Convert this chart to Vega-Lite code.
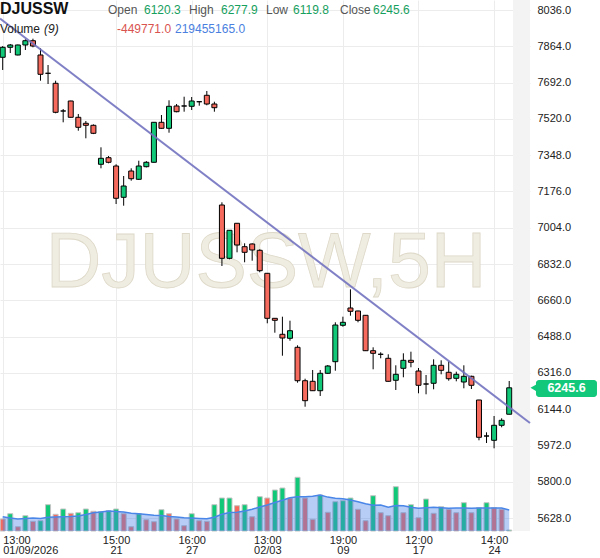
{
  "$schema": "https://vega.github.io/schema/vega-lite/v6.json",
  "width": 530,
  "height": 531,
  "padding": {"left": 0, "top": 0, "right": 70, "bottom": 27},
  "autosize": {"type": "none"},
  "background": "white",
  "config": {
    "view": {"stroke": null},
    "font": "Liberation Sans",
    "scale": {"continuousPadding": 0},
    "axis": {"domain": false, "ticks": false, "gridColor": "#ececec", "gridWidth": 1, "labelColor": "#222222", "labelFontSize": 11, "labelFont": "Liberation Sans", "labelOverlap": false},
    "axisX": {"labelFlush": false, "labelOverlap": false, "labelBound": false},
    "axisY": {"labelOverlap": false, "labelFlush": false}
  },
  "datasets": {
    "bars": [
      {"i":0,"o":7811.9,"h":7865,"l":7751.7,"c":7859.2,"vol":120,"ma":143,"vd":"down"},
      {"i":1,"o":7859.2,"h":7874.9,"l":7832.2,"c":7870.2,"vol":173,"ma":130,"vd":"up"},
      {"i":2,"o":7822.8,"h":7872,"l":7821,"c":7870.2,"vol":43,"ma":120,"vd":"down"},
      {"i":3,"o":7870.2,"h":7897.2,"l":7846.5,"c":7890.5,"vol":153,"ma":125,"vd":"up"},
      {"i":4,"o":7890.5,"h":7900,"l":7859.2,"c":7865.4,"vol":97,"ma":130,"vd":"down"},
      {"i":5,"o":7822.8,"h":7854.5,"l":7701,"c":7731.3,"vol":103,"ma":125,"vd":"up"},
      {"i":6,"o":7736,"h":7775.4,"l":7685.3,"c":7736,"vol":263,"ma":137,"vd":"up"},
      {"i":7,"o":7688.6,"h":7701,"l":7546.5,"c":7551.2,"vol":167,"ma":141,"vd":"down"},
      {"i":8,"o":7557.4,"h":7566.9,"l":7503.8,"c":7557.4,"vol":220,"ma":143,"vd":"up"},
      {"i":9,"o":7604.8,"h":7606,"l":7526,"c":7527.5,"vol":177,"ma":146,"vd":"down"},
      {"i":10,"o":7527.5,"h":7543.2,"l":7464,"c":7480.1,"vol":183,"ma":151,"vd":"up"},
      {"i":11,"o":7499.1,"h":7510,"l":7428,"c":7489.6,"vol":220,"ma":165,"vd":"up"},
      {"i":12,"o":7489.6,"h":7494,"l":7448,"c":7451.7,"vol":197,"ma":183,"vd":"down"},
      {"i":13,"o":7304.8,"h":7385.3,"l":7285.8,"c":7333.2,"vol":193,"ma":191,"vd":"up"},
      {"i":14,"o":7336.1,"h":7344.1,"l":7309.5,"c":7314.3,"vol":203,"ma":199,"vd":"up"},
      {"i":15,"o":7296.7,"h":7304.8,"l":7116.6,"c":7143.7,"vol":220,"ma":196,"vd":"up"},
      {"i":16,"o":7148.4,"h":7249.3,"l":7108.6,"c":7201.9,"vol":173,"ma":190,"vd":"down"},
      {"i":17,"o":7273,"h":7285.8,"l":7227.1,"c":7236.5,"vol":43,"ma":177,"vd":"down"},
      {"i":18,"o":7233.7,"h":7321.8,"l":7230.4,"c":7296.7,"vol":173,"ma":173,"vd":"up"},
      {"i":19,"o":7293.4,"h":7320,"l":7290,"c":7314.3,"vol":113,"ma":165,"vd":"down"},
      {"i":20,"o":7314.3,"h":7505,"l":7313,"c":7503.8,"vol":93,"ma":157,"vd":"down"},
      {"i":21,"o":7503.8,"h":7538.4,"l":7473.5,"c":7475.4,"vol":213,"ma":154,"vd":"up"},
      {"i":22,"o":7475.4,"h":7608.1,"l":7454.5,"c":7579.6,"vol":173,"ma":146,"vd":"down"},
      {"i":23,"o":7581.1,"h":7590.5,"l":7551.2,"c":7554.1,"vol":120,"ma":140,"vd":"down"},
      {"i":24,"o":7581.1,"h":7625.1,"l":7554.1,"c":7581.1,"vol":53,"ma":133,"vd":"down"},
      {"i":25,"o":7579.6,"h":7623.7,"l":7562.1,"c":7604.8,"vol":173,"ma":130,"vd":"up"},
      {"i":26,"o":7601.4,"h":7604.8,"l":7582.5,"c":7601.4,"vol":103,"ma":126,"vd":"down"},
      {"i":27,"o":7631.8,"h":7652.2,"l":7584.4,"c":7590.5,"vol":97,"ma":122,"vd":"down"},
      {"i":28,"o":7590.5,"h":7601.4,"l":7554.1,"c":7573,"vol":263,"ma":137,"vd":"up"},
      {"i":29,"o":7111.9,"h":7124.7,"l":6822.8,"c":6859.3,"vol":330,"ma":168,"vd":"up"},
      {"i":30,"o":6859.3,"h":6992.5,"l":6854.6,"c":6992,"vol":330,"ma":185,"vd":"up"},
      {"i":31,"o":7025.2,"h":7026,"l":6887.7,"c":6922.4,"vol":253,"ma":188,"vd":"down"},
      {"i":32,"o":6914.3,"h":6930.4,"l":6840.4,"c":6887.7,"vol":263,"ma":199,"vd":"up"},
      {"i":33,"o":6927.1,"h":6930.4,"l":6848,"c":6898.7,"vol":143,"ma":218,"vd":"down"},
      {"i":34,"o":6897.2,"h":6901.9,"l":6793,"c":6800.6,"vol":343,"ma":240,"vd":"up"},
      {"i":35,"o":6788.2,"h":6789,"l":6551.3,"c":6574.9,"vol":330,"ma":260,"vd":"down"},
      {"i":36,"o":6574.9,"h":6575.5,"l":6506.7,"c":6565.5,"vol":410,"ma":285,"vd":"up"},
      {"i":37,"o":6499.2,"h":6582.6,"l":6397.7,"c":6481.6,"vol":430,"ma":308,"vd":"up"},
      {"i":38,"o":6480.2,"h":6563.6,"l":6468.8,"c":6516.2,"vol":330,"ma":333,"vd":"down"},
      {"i":39,"o":6437.5,"h":6447,"l":6269.8,"c":6279.2,"vol":537,"ma":343,"vd":"up"},
      {"i":40,"o":6279.2,"h":6288.7,"l":6156,"c":6184.5,"vol":330,"ma":343,"vd":"down"},
      {"i":41,"o":6276.4,"h":6330,"l":6231,"c":6231.8,"vol":117,"ma":348,"vd":"down"},
      {"i":42,"o":6231.8,"h":6330,"l":6206.8,"c":6314.3,"vol":360,"ma":360,"vd":"up"},
      {"i":43,"o":6314.3,"h":6353.6,"l":6311,"c":6348.9,"vol":187,"ma":339,"vd":"down"},
      {"i":44,"o":6369.3,"h":6556,"l":6326.6,"c":6543.2,"vol":293,"ma":328,"vd":"up"},
      {"i":45,"o":6541.8,"h":6582.6,"l":6535.1,"c":6556,"vol":303,"ma":323,"vd":"up"},
      {"i":46,"o":6623.8,"h":6712.4,"l":6587.3,"c":6608.1,"vol":330,"ma":310,"vd":"up"},
      {"i":47,"o":6609.6,"h":6611,"l":6556,"c":6565.5,"vol":217,"ma":293,"vd":"down"},
      {"i":48,"o":6589.2,"h":6590,"l":6420,"c":6421.4,"vol":103,"ma":272,"vd":"down"},
      {"i":49,"o":6421.4,"h":6437.5,"l":6333.3,"c":6409.1,"vol":353,"ma":258,"vd":"up"},
      {"i":50,"o":6404.4,"h":6413.9,"l":6385.4,"c":6404.4,"vol":183,"ma":260,"vd":"down"},
      {"i":51,"o":6385.4,"h":6404.4,"l":6275,"c":6276.4,"vol":153,"ma":237,"vd":"down"},
      {"i":52,"o":6281.2,"h":6352.2,"l":6235.2,"c":6309.6,"vol":443,"ma":255,"vd":"up"},
      {"i":53,"o":6338,"h":6409.1,"l":6295.4,"c":6375.9,"vol":183,"ma":252,"vd":"down"},
      {"i":54,"o":6375.9,"h":6416.7,"l":6342.8,"c":6366.5,"vol":263,"ma":238,"vd":"up"},
      {"i":55,"o":6325.2,"h":6339.5,"l":6219.5,"c":6257.5,"vol":133,"ma":228,"vd":"down"},
      {"i":56,"o":6263.6,"h":6306.3,"l":6214.8,"c":6263.6,"vol":320,"ma":233,"vd":"up"},
      {"i":57,"o":6267,"h":6380.6,"l":6238.5,"c":6352.2,"vol":177,"ma":238,"vd":"down"},
      {"i":58,"o":6352.2,"h":6375.9,"l":6309.6,"c":6328.5,"vol":243,"ma":233,"vd":"up"},
      {"i":59,"o":6319.1,"h":6371.2,"l":6279.2,"c":6288.7,"vol":217,"ma":228,"vd":"down"},
      {"i":60,"o":6290.6,"h":6322,"l":6276.4,"c":6309.6,"vol":183,"ma":230,"vd":"down"},
      {"i":61,"o":6273.1,"h":6352.2,"l":6243.2,"c":6300.1,"vol":283,"ma":229,"vd":"up"},
      {"i":62,"o":6300.1,"h":6303,"l":6239.9,"c":6257.5,"vol":183,"ma":227,"vd":"down"},
      {"i":63,"o":6187.8,"h":6188.5,"l":5996.8,"c":6011,"vol":233,"ma":229,"vd":"up"},
      {"i":64,"o":6017.2,"h":6034.7,"l":5984,"c":6017.2,"vol":283,"ma":230,"vd":"up"},
      {"i":65,"o":5996.8,"h":6112,"l":5958.9,"c":6067.9,"vol":233,"ma":230,"vd":"down"},
      {"i":66,"o":6067.9,"h":6101.1,"l":6058.4,"c":6091.6,"vol":217,"ma":230,"vd":"down"},
      {"i":67,"o":6120.3,"h":6277.9,"l":6119.8,"c":6245.6,"vol":10,"ma":210,"vd":"up"}
    ],
    "trend": [{"i": -0.357, "p": 7995.3}, {"i": 69.75, "p": 6078.8}],
    "future": [{"i": 67.5, "i2": 69.75}],
    "mark": [{"t": "DJUSSW,5H", "i": 34.83, "p": 6724.7}],
    "hdr": [
      {"t":"DJUSSW","i":-0.357,"p":8019.4,"role":"sym"},
      {"t":"Open","i":13.93,"p":8019.4,"role":"lab"},
      {"t":"6120.3","i":18.69,"p":8019.4,"role":"val"},
      {"t":"High","i":24.64,"p":8019.4,"role":"lab"},
      {"t":"6277.9","i":28.87,"p":8019.4,"role":"val"},
      {"t":"Low","i":34.83,"p":8019.4,"role":"lab"},
      {"t":"6119.8","i":38.4,"p":8019.4,"role":"val"},
      {"t":"Close","i":44.62,"p":8019.4,"role":"lab"},
      {"t":"6245.6","i":48.98,"p":8019.4,"role":"val"},
      {"t":"Volume","i":-0.357,"p":7927,"role":"vol"},
      {"t":"(9)","i":5.46,"p":7927,"role":"per"},
      {"t":"-449771.0","i":15.12,"p":7927,"role":"chg"},
      {"t":"219455165.0","i":22.79,"p":7927,"role":"ma"}
    ],
    "last": [{"t": "6245.6", "p": 6245.6}]
  },
  "layer": [
    {
      "layer": [
        {
          "data": {"name": "future"},
          "mark": {"type": "rect", "fill": "#f3f3f3"},
          "encoding": {
            "x": {"field": "i", "type": "quantitative", "title": null, "scale": {"domain": [-0.357, 69.75], "nice": false, "zero": false, "padding": 0},
              "axis": {"values": [0, 15, 25, 35, 45, 55, 65], "tickCount": 30, "grid": true, "labelFlush": false, "labelPadding": 3, "labelLineHeight": 10.5, "labelBound": false, "labelOverlap": false,
                "labelAlign": {"condition": {"test": "datum.value == 0", "value": "left"}, "value": "center"},
                "labelExpr": "datum.value == 0 ? ['13:00', '01/09/2026'] : datum.value == 15 ? ['15:00', '21'] : datum.value == 25 ? ['16:00', '27'] : datum.value == 35 ? ['13:00', '02/03'] : datum.value == 45 ? ['19:00', '09'] : datum.value == 55 ? ['12:00', '17'] : ['14:00', '24']"}},
            "x2": {"field": "i2"},
            "y": {"datum": 8083.4, "type": "quantitative", "title": null, "scale": {"domain": [5567, 8083.4], "nice": false, "zero": false, "padding": 0},
              "axis": {"orient": "right", "values": [5628, 5800, 5972, 6144, 6316, 6488, 6660, 6832, 7004, 7176, 7348, 7520, 7692, 7864, 8036], "tickCount": 30, "format": ".1f", "labelPadding": 7, "grid": true, "labelOverlap": false}},
            "y2": {"datum": 5567}
          }
        },
        {
          "data": {"name": "mark"},
          "mark": {"type": "text", "fontSize": 77, "font": "Liberation Sans", "align": "center", "baseline": "alphabetic", "fill": "#efece2", "stroke": "#ddd8c7", "strokeWidth": 0.8},
          "encoding": {
            "x": {"field": "i", "type": "quantitative", "title": null},
            "y": {"field": "p", "type": "quantitative", "title": null},
            "text": {"field": "t"}
          }
        },
        {
          "data": {"name": "bars"},
          "mark": {"type": "rule", "color": "#000000", "strokeWidth": 1},
          "encoding": {
            "x": {"field": "i", "type": "quantitative", "title": null},
            "y": {"field": "l", "type": "quantitative", "title": null},
            "y2": {"field": "h"}
          }
        },
        {
          "data": {"name": "bars"},
          "mark": {"type": "bar", "size": 5, "stroke": "#000000", "strokeWidth": 1},
          "encoding": {
            "x": {"field": "i", "type": "quantitative", "title": null},
            "y": {"field": "o", "type": "quantitative", "title": null},
            "y2": {"field": "c"},
            "fill": {"condition": {"test": "datum.c >= datum.o", "value": "#10c878"}, "value": "#f66a5e"}
          }
        },
        {
          "data": {"name": "trend"},
          "mark": {"type": "line", "color": "#7272c0", "strokeWidth": 2, "opacity": 0.9},
          "encoding": {
            "x": {"field": "i", "type": "quantitative", "title": null},
            "y": {"field": "p", "type": "quantitative", "title": null}
          }
        },
        {
          "data": {"name": "hdr"},
          "transform": [{"filter": "datum.role == 'sym'"}],
          "mark": {"type": "text", "fontSize": 16, "fontWeight": "bold", "align": "left", "baseline": "alphabetic", "fill": "#111111"},
          "encoding": {
            "x": {"field": "i", "type": "quantitative", "title": null},
            "y": {"field": "p", "type": "quantitative", "title": null},
            "text": {"field": "t"}
          }
        },
        {
          "data": {"name": "hdr"},
          "transform": [{"filter": "datum.role == 'per'"}],
          "mark": {"type": "text", "fontSize": 12, "fontStyle": "italic", "align": "left", "baseline": "alphabetic", "fill": "#222222"},
          "encoding": {
            "x": {"field": "i", "type": "quantitative", "title": null},
            "y": {"field": "p", "type": "quantitative", "title": null},
            "text": {"field": "t"}
          }
        },
        {
          "data": {"name": "hdr"},
          "transform": [{"filter": "datum.role != 'sym' && datum.role != 'per'"}],
          "mark": {"type": "text", "fontSize": 12, "align": "left", "baseline": "alphabetic"},
          "encoding": {
            "x": {"field": "i", "type": "quantitative", "title": null},
            "y": {"field": "p", "type": "quantitative", "title": null},
            "text": {"field": "t"},
            "color": {"field": "role", "type": "nominal", "legend": null, "scale": {"domain": ["lab", "val", "vol", "chg", "ma"], "range": ["#555555", "#16a05e", "#222222", "#d9534f", "#4a80e0"]}}
          }
        },
        {
          "data": {"name": "last"},
          "mark": {"type": "rect", "fill": "#12c87a", "cornerRadius": 3},
          "encoding": {
            "x": {"datum": 70.54, "type": "quantitative", "title": null},
            "x2": {"datum": 78.61},
            "y": {"datum": 6202, "type": "quantitative", "title": null},
            "y2": {"datum": 6282.6}
          }
        },
        {
          "data": {"name": "last"},
          "mark": {"type": "point", "shape": "triangle-left", "filled": true, "fill": "#12c87a", "opacity": 1, "size": 45},
          "encoding": {
            "x": {"datum": 70.2, "type": "quantitative", "title": null},
            "y": {"field": "p", "type": "quantitative", "title": null}
          }
        },
        {
          "data": {"name": "last"},
          "mark": {"type": "text", "fontSize": 12.5, "fontWeight": "bold", "fill": "#ffffff", "align": "center", "baseline": "middle"},
          "encoding": {
            "x": {"datum": 74.58, "type": "quantitative", "title": null},
            "y": {"field": "p", "type": "quantitative", "title": null},
            "text": {"field": "t"}
          }
        }
      ]
    },
    {
      "data": {"name": "bars"},
      "layer": [
        {
          "mark": {"type": "bar", "size": 5, "stroke": "#c4c4c4", "strokeWidth": 1},
          "encoding": {
            "x": {"field": "i", "type": "quantitative", "title": null},
            "y": {"field": "vol", "type": "quantitative", "scale": {"domain": [0, 5310], "nice": false, "padding": 0}, "axis": null},
            "fill": {"field": "vd", "type": "nominal", "legend": null, "scale": {"domain": ["up", "down"], "range": ["#10c878", "#f66a5e"]}}
          }
        },
        {
          "mark": {"type": "area", "color": "#4a82e6", "opacity": 0.4},
          "encoding": {
            "x": {"field": "i", "type": "quantitative", "title": null},
            "y": {"field": "ma", "type": "quantitative", "axis": null}
          }
        },
        {
          "mark": {"type": "line", "color": "#4a86e8", "strokeWidth": 1.5},
          "encoding": {
            "x": {"field": "i", "type": "quantitative", "title": null},
            "y": {"field": "ma", "type": "quantitative", "axis": null}
          }
        }
      ]
    }
  ],
  "resolve": {"scale": {"y": "independent"}}
}
